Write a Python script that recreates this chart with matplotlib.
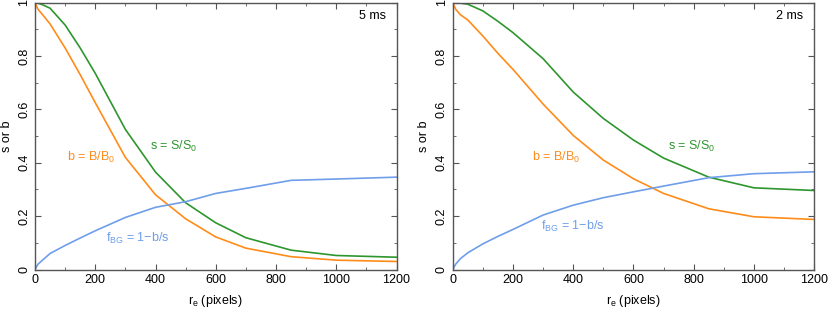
import matplotlib
matplotlib.use("Agg")
import matplotlib.pyplot as plt
from matplotlib.ticker import MultipleLocator

plt.rcParams['font.family'] = ['Liberation Sans', 'DejaVu Sans']

r = [0, 10, 25, 50, 100, 150, 200, 300, 400, 500, 600, 700, 850, 1000, 1200]

s_5ms = [1.0, 0.998, 0.992, 0.979, 0.916, 0.83, 0.735, 0.525, 0.365, 0.25, 0.175, 0.119, 0.0725, 0.0525, 0.046]
b_5ms = [1.0, 0.975, 0.955, 0.92, 0.83, 0.73, 0.625, 0.42, 0.28, 0.19, 0.122, 0.08, 0.048, 0.035, 0.03]
f_5ms = [0.0, 0.02, 0.035, 0.06, 0.09, 0.118, 0.145, 0.195, 0.233, 0.254, 0.285, 0.304, 0.334, 0.339, 0.346]

s_2ms = [1.0, 0.999, 0.998, 0.994, 0.969, 0.93, 0.8875, 0.79, 0.665, 0.566, 0.485, 0.4175, 0.346, 0.306, 0.296]
b_2ms = [1.0, 0.975, 0.955, 0.935, 0.875, 0.81, 0.75, 0.62, 0.5025, 0.41, 0.34, 0.285, 0.2275, 0.1975, 0.1875]
f_2ms = [0.0, 0.02, 0.04, 0.0625, 0.096, 0.124, 0.15, 0.204, 0.241, 0.269, 0.291, 0.3125, 0.344, 0.359, 0.366]

panels = [
    dict(s=s_5ms, b=b_5ms, f=f_5ms, tag="5 ms",
         s_pos=(383, 0.46), b_pos=(106, 0.42), f_pos=(236, 0.115)),
    dict(s=s_2ms, b=b_2ms, f=f_2ms, tag="2 ms",
         s_pos=(716, 0.46), b_pos=(262, 0.42), f_pos=(292, 0.16)),
]

GREEN = '#2e962e'
ORANGE = '#ff8c1a'
BLUE = '#6f9eea'
SPINE = '#555555'

fig = plt.figure(figsize=(8.3, 3.11), dpi=100)
lefts = [35 / 830, 452.7 / 830]
width = 361.5 / 830
bottom = 1 - 269.5 / 311
height = (269.5 - 2.6) / 311

for left, p in zip(lefts, panels):
    ax = fig.add_axes([left, bottom, width, height])
    ax.plot(r, p['s'], color=GREEN, lw=1.2)
    ax.plot(r, p['b'], color=ORANGE, lw=1.2)
    ax.plot(r, p['f'], color=BLUE, lw=1.2)
    ax.set_xlim(0, 1200)
    ax.set_ylim(0, 1)
    ax.xaxis.set_major_locator(MultipleLocator(200))
    ax.xaxis.set_minor_locator(MultipleLocator(100))
    ax.yaxis.set_major_locator(MultipleLocator(0.2))
    ax.yaxis.set_minor_locator(MultipleLocator(0.1))
    ax.yaxis.set_major_formatter(plt.FuncFormatter(lambda v, _: ('%g' % round(v, 2))))
    ax.tick_params(which='both', direction='in', top=True, right=True, color=SPINE,
                   labelsize=9)
    ax.tick_params(which='major', length=4)
    ax.tick_params(which='minor', length=2)
    for lab in ax.get_yticklabels():
        lab.set_rotation(90)
        lab.set_va('center')
    for sp in ax.spines.values():
        sp.set_color(SPINE)
        sp.set_linewidth(1.0)
    ax.set_xlabel(r'r$_\mathregular{e}$ (pixels)', fontsize=9, labelpad=5)
    ax.set_ylabel('s or b', fontsize=9, labelpad=4)
    ax.text(p['s_pos'][0], p['s_pos'][1], r's = S/S$_\mathregular{0}$', color=GREEN,
            fontsize=9, va='center', ha='left')
    ax.text(p['b_pos'][0], p['b_pos'][1], r'b = B/B$_\mathregular{0}$', color=ORANGE,
            fontsize=9, va='center', ha='left')
    ax.text(p['f_pos'][0], p['f_pos'][1], r'f$_\mathregular{BG}$ = 1' + '\u2212' + 'b/s',
            color=BLUE, fontsize=9, va='center', ha='left')
    ax.text(0.97, 0.95, p['tag'], transform=ax.transAxes, ha='right', va='center',
            fontsize=9, color='black')

fig.savefig('out.png', dpi=100)
